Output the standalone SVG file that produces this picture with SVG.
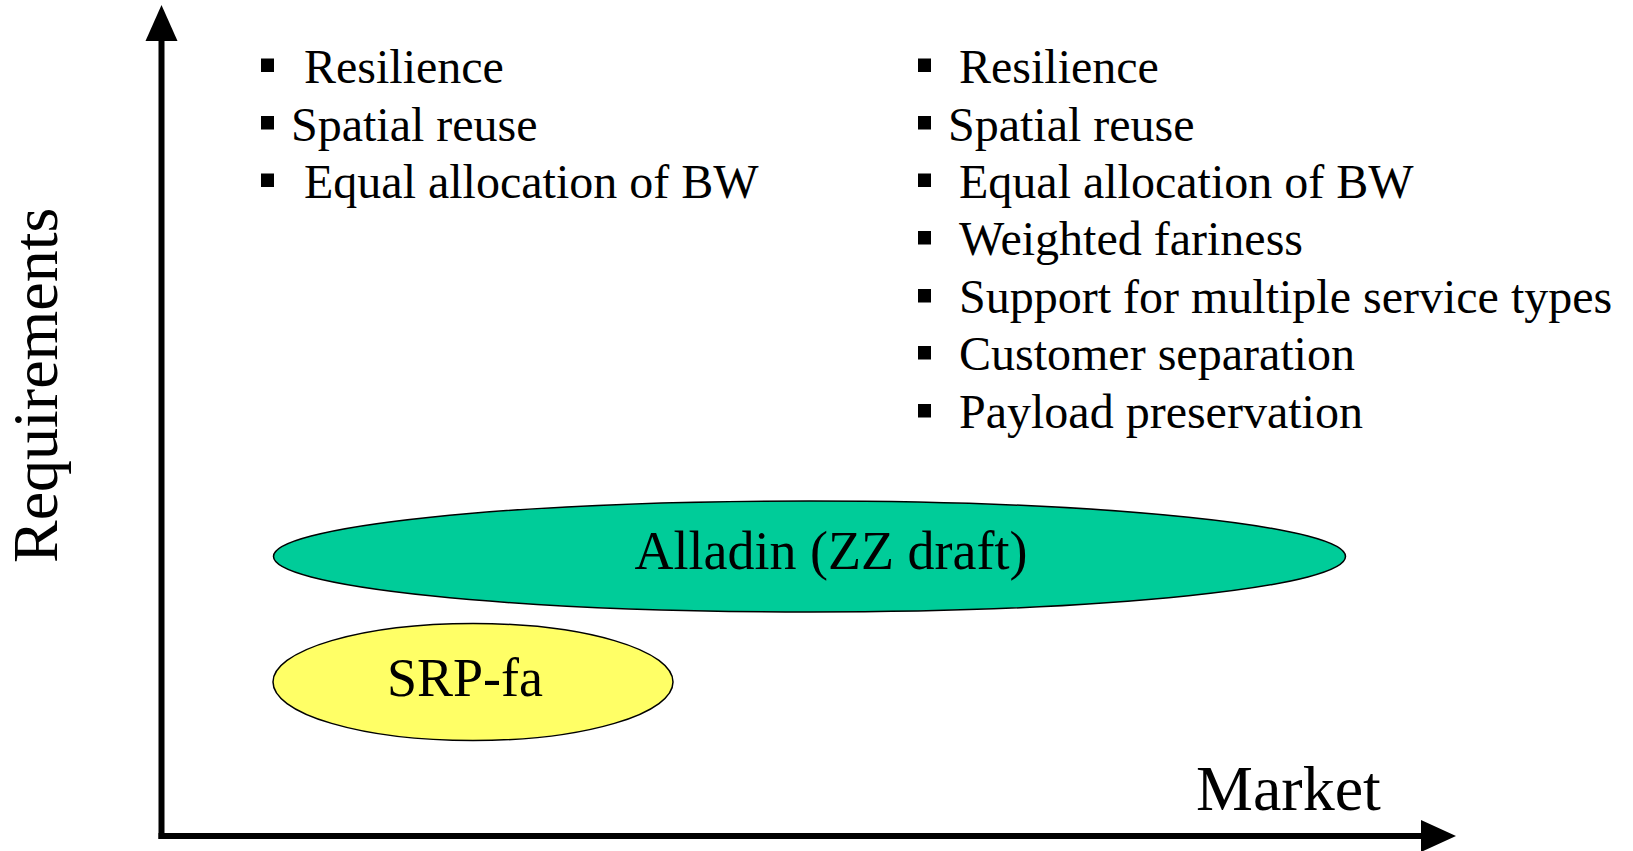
<svg xmlns="http://www.w3.org/2000/svg" width="1633" height="851" viewBox="0 0 1633 851">
<style>
.t{font-family:"Liberation Serif","Times New Roman",serif;fill:#000}
.b{font-size:48px}
.big{font-size:64px}
.lab{font-size:54px;text-anchor:middle}
.blt{fill:#000}
.ax{stroke:#000;stroke-width:6;fill:none}
.ah{fill:#000}
</style>
<rect width="1633" height="851" fill="#fff"/>
<g id="connectors">
  <line class="ax" x1="161.5" y1="38" x2="161.5" y2="839"/>
  <polygon class="ah" points="161.5,5 145.5,41 177.5,41"/>
  <line class="ax" x1="158.5" y1="836" x2="1425" y2="836"/>
  <polygon class="ah" points="1456,836 1421,820 1421,852"/>
</g>
<g id="axis-labels">
  <text class="t big" transform="translate(57,563) rotate(-90)">Requirements</text>
  <text class="t big" x="1196" y="810">Market</text>
</g>
<g id="left-list">
  <rect class="blt" x="261" y="58.5" width="13" height="13.5"/>
  <text class="t b" x="304" y="83">Resilience</text>
  <rect class="blt" x="261" y="116" width="13" height="13.5"/>
  <text class="t b" x="291" y="141">Spatial reuse</text>
  <rect class="blt" x="261" y="173.5" width="13" height="13.5"/>
  <text class="t b" x="304" y="198">Equal allocation of BW</text>
</g>
<g id="right-list">
  <rect class="blt" x="918" y="58.5" width="13" height="13.5"/>
  <text class="t b" x="959" y="83">Resilience</text>
  <rect class="blt" x="918" y="116" width="13" height="13.5"/>
  <text class="t b" x="948" y="141">Spatial reuse</text>
  <rect class="blt" x="918" y="173.5" width="13" height="13.5"/>
  <text class="t b" x="959" y="198">Equal allocation of BW</text>
  <rect class="blt" x="918" y="231" width="13" height="13.5"/>
  <text class="t b" x="959" y="255">Weighted fariness</text>
  <rect class="blt" x="918" y="289" width="13" height="13.5"/>
  <text class="t b" x="959" y="313">Support for multiple service types</text>
  <rect class="blt" x="918" y="346" width="13" height="13.5"/>
  <text class="t b" x="959" y="370">Customer separation</text>
  <rect class="blt" x="918" y="404" width="13" height="13.5"/>
  <text class="t b" x="959" y="428">Payload preservation</text>
</g>
<g id="alladin">
  <ellipse cx="809.5" cy="556.5" rx="536" ry="55.5" fill="#00CC99" stroke="#000" stroke-width="1.5"/>
  <text class="t lab" x="831" y="569">Alladin (ZZ draft)</text>
</g>
<g id="srp-fa">
  <ellipse cx="473" cy="682" rx="200" ry="58.5" fill="#FFFF66" stroke="#000" stroke-width="1.5"/>
  <text class="t lab" x="465" y="696">SRP-fa</text>
</g>
</svg>
